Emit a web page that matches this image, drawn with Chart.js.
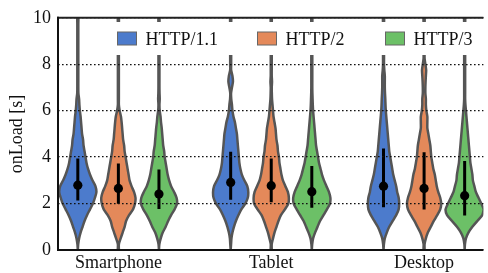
<!DOCTYPE html>
<html>
<head>
<meta charset="utf-8">
<script src="https://cdn.jsdelivr.net/npm/chart.js@4/dist/chart.umd.min.js"></script>
<style>
  html, body { margin: 0; padding: 0; background: #fff; }
  #wrap { width: 488px; height: 273px; position: relative; }
</style>
</head>
<body>
<div id="wrap"><canvas id="c" width="488" height="273"></canvas></div>
<script>
// ---------------- data ----------------
const categories = ['Smartphone', 'Tablet', 'Desktop'];
const seriesNames = ['HTTP/1.1', 'HTTP/2', 'HTTP/3'];
const yTicks = [0, 2, 4, 6, 8, 10];

// KDE grid: onLoad values (s) at which violin half-widths were read
const densityGrid = [0,0.25,0.5,0.75,1,1.25,1.5,1.75,2,2.25,2.5,2.75,3,3.25,3.5,3.75,4,4.25,4.5,4.75,5,
  5.25,5.5,5.75,6,6.25,6.5,6.75,7,7.25,7.5,7.75,8,8.25,8.5,8.75,9,9.25,9.5,9.75,10];

// relative violin half-widths (density), one array per violin
const smartphoneH1 = [0,0.4,1.3,2.8,4.8,6.8,9.3,12.3,15.3,17.3,18.8,17.8,14.8,12.3,10.3,8.8,7.8,6.8,5.8,5.3,4.3,3.8,3.3,2.8,2.1,1.6,1.3,0.6,0.5,0.5,0.5,0.5,0.5,0.5,0.5,0.5,0.5,0.5,0.5,0.5,0.5];
const smartphoneH2 = [0.5,0.5,2.3,4.3,6.3,7.8,10.8,14.8,16.8,17.3,15.8,13.3,11.3,10.3,9.3,8.3,7.3,6.3,5.8,4.8,4.3,3.8,3.3,2.6,1.3,0.5,0.5,0.5,0.5,0.5,0.5,0.5,0.5,0.5,0.5,0.5,0.5,0.5,0.5,0.5,0.5];
const smartphoneH3 = [0,0.4,1.8,3.8,6.8,9.3,12.3,15.8,18.3,17.8,15.3,12.3,10.3,8.8,7.8,6.8,5.8,5.3,4.3,3.8,3.3,2.8,2.1,1.6,0.8,0.5,0.8,0.6,0.5,0.5,0.5,0.5,0.5,0.5,0.5,0.5,0.5,0.5,0.5,0.5,0.5];
const tabletH1 = [0,0.4,0.8,1.8,3.3,5.3,7.8,10.8,14.8,17.3,17.8,16.8,13.8,11.3,9.8,8.8,8.3,7.8,7.3,6.8,6.3,5.3,4.3,2.8,1.8,1.3,0.6,0.4,1.3,2.3,1.8,0.5,0.5,0.5,0.5,0.5,0.5,0.5,0.5,0.5,0.5];
const tabletH2 = [0.5,0.5,1.8,3.3,5.3,7.3,9.8,13.8,17.3,17.8,16.8,14.3,11.8,10.3,9.3,8.3,7.8,6.8,6.3,5.3,4.8,4.3,3.3,2.3,1.8,1.3,0.8,0.6,0.5,0.8,0.5,0.5,0.5,0.5,0.5,0.5,0.5,0.5,0.5,0.5,0.5];
const tabletH3 = [0,0.4,1.3,3.3,5.8,8.3,11.8,15.3,18.3,18.8,17.3,14.8,12.3,10.3,8.8,7.3,6.3,5.3,4.3,3.8,3.3,2.8,2.3,1.8,1.3,1.0,0.8,0.6,0.5,0.5,0.5,0.5,0.5,0.5,0.5,0.5,0.5,0.5,0.5,0.5,0.5];
const desktopH1 = [0,0.4,1.3,3.3,5.8,9.3,12.8,15.3,15.8,15.3,13.8,12.8,11.3,9.8,8.8,7.8,6.8,5.8,5.3,4.8,4.3,3.8,3.3,2.8,2.3,2.0,1.8,1.5,1.3,1.3,1.3,0.8,0.5,0.5,0.5,0.5,0.5,0.5,0.5,0.5,0.5];
const desktopH2 = [0.5,0.5,1.8,3.8,6.8,9.8,13.3,16.3,17.3,16.3,14.3,12.8,11.8,10.8,9.3,8.3,7.3,6.8,6.3,5.3,4.3,3.3,3.3,3.3,2.3,1.8,1.8,1.3,1.3,1.5,1.8,2.1,1.3,0.5,0.5,0.5,0.5,0.5,0.5,0.5,0.5];
const desktopH3 = [0,0.3,1.3,3.8,7.8,12.8,17.8,19.3,16.8,14.0,11.3,9.8,8.3,7.8,6.8,5.8,5.3,4.8,4.3,3.8,3.3,2.8,2.3,1.8,1.3,0.8,0.5,0.5,0.5,0.5,0.5,0.5,0.5,0.5,0.5,0.5,0.5,0.5,0.5,0.5,0.5];

// per-series summary: central dot and line ends, one value per category
const h1Center = [2.79, 2.91, 2.75];
const h2Center = [2.65, 2.77, 2.65];
const h3Center = [2.41, 2.51, 2.34];
const h1Low = [2.13, 2.16, 1.84];
const h2Low = [1.99, 2.06, 1.74];
const h3Low = [1.77, 1.82, 1.49];
const h1High = [3.94, 4.23, 4.37];
const h2High = [3.73, 3.94, 4.21];
const h3High = [3.47, 3.62, 3.83];

// ---------------- layout / style ----------------
const colors = ['#4c7bcc', '#e4895a', '#6cc067'];
const outline = '#555555';
const dodge = [-0.2654, 0, 0.2654];     // offset of each hue within a category
const widthScale = 1 / 154.5;           // density -> x units
const FONT = "'Liberation Serif', 'Times New Roman', serif";

const densities = [
  [smartphoneH1, tabletH1, desktopH1],
  [smartphoneH2, tabletH2, desktopH2],
  [smartphoneH3, tabletH3, desktopH3]
];
const centers = [h1Center, h2Center, h3Center];
const lows = [h1Low, h2Low, h3Low];
const highs = [h1High, h2High, h3High];

const datasets = [];
// violins
for (let s = 0; s < 3; s++) {
  for (let c = 0; c < categories.length; c++) {
    const dens = densities[s][c];
    const xc = c + dodge[s];
    const pts = [];
    for (let i = 0; i < densityGrid.length; i++) pts.push({x: xc + dens[i] * widthScale, y: densityGrid[i]});
    for (let i = densityGrid.length - 1; i >= 0; i--) pts.push({x: xc - dens[i] * widthScale, y: densityGrid[i]});
    pts.push({x: pts[0].x, y: pts[0].y});
    datasets.push({
      label: seriesNames[s] + ' ' + categories[c],
      data: pts, showLine: true, fill: 'shape', tension: 0.25,
      backgroundColor: colors[s], borderColor: outline, borderWidth: 2.5,
      borderJoinStyle: 'round', pointRadius: 0, order: 3
    });
  }
}
// whisker lines
for (let s = 0; s < 3; s++) {
  const pts = [];
  for (let c = 0; c < categories.length; c++) {
    const xc = c + dodge[s];
    pts.push({x: xc, y: lows[s][c]}, {x: xc, y: highs[s][c]}, {x: xc, y: null});
  }
  datasets.push({label: seriesNames[s] + ' range', data: pts, showLine: true, spanGaps: false,
    borderColor: '#000', borderWidth: 3, pointRadius: 0, fill: false, order: 2});
}
// central dots
for (let s = 0; s < 3; s++) {
  datasets.push({label: seriesNames[s] + ' median',
    data: categories.map((_, c) => ({x: c + dodge[s], y: centers[s][c]})),
    showLine: false, pointRadius: 4.6, pointBackgroundColor: '#000', pointBorderWidth: 0, order: 1});
}

const frameAndLegend = {
  id: 'frameAndLegend',
  afterDraw(chart) {
    const {ctx, chartArea: a} = chart;
    ctx.save();
    // spines
    ctx.lineWidth = 2;
    ctx.strokeStyle = '#222';
    ctx.beginPath(); ctx.moveTo(a.left - 1, a.top); ctx.lineTo(a.right, a.top); ctx.stroke();
    ctx.strokeStyle = '#111';
    ctx.beginPath(); ctx.moveTo(a.left, a.top - 1); ctx.lineTo(a.left, a.bottom + 1); ctx.stroke();
    ctx.beginPath(); ctx.moveTo(a.left - 1, a.bottom); ctx.lineTo(a.right, a.bottom); ctx.stroke();
    // legend
    ctx.fillStyle = '#fff';
    ctx.fillRect(104, 22, a.right - 104, 33);
    const patchX = [117.5, 257.5, 385.5];
    ctx.font = '18px ' + FONT;
    ctx.textBaseline = 'alphabetic';
    for (let s = 0; s < 3; s++) {
      ctx.fillStyle = colors[s];
      ctx.fillRect(patchX[s], 32, 19, 13);
      ctx.strokeStyle = '#666';
      ctx.lineWidth = 1;
      ctx.strokeRect(patchX[s], 32, 19, 13);
      ctx.fillStyle = '#111';
      ctx.fillText(seriesNames[s], patchX[s] + 28, 45);
    }
    ctx.restore();
  }
};

new Chart(document.getElementById('c'), {
  type: 'scatter',
  data: {datasets},
  options: {
    responsive: false, animation: false, devicePixelRatio: 1,
    layout: {padding: {left: 0, top: 15, right: 0, bottom: 0}},
    plugins: {legend: {display: false}, tooltip: {enabled: false}},
    scales: {
      x: {
        type: 'linear', min: -0.395, max: 2.388,
        afterBuildTicks: (sc) => { sc.ticks = categories.map((_, i) => ({value: i})); },
        afterFit: (sc) => { sc.height = 23; },
        ticks: {callback: (v) => categories[v], color: '#111', font: {family: FONT, size: 18}, padding: 2, maxRotation: 0, autoSkip: false},
        grid: {display: false, drawTicks: false},
        border: {display: false}
      },
      y: {
        min: 0, max: 10,
        afterBuildTicks: (sc) => { sc.ticks = yTicks.map(v => ({value: v})); },
        afterFit: (sc) => { sc.width = 58; },
        ticks: {color: '#111', font: {family: FONT, size: 18}, padding: 7},
        grid: {color: '#111', lineWidth: 1.3, drawTicks: false, z: 1},
        border: {display: false, dash: [1.6, 2.4]},
        title: {display: true, text: 'onLoad [s]', color: '#111', font: {family: FONT, size: 18}, padding: {top: 6, bottom: 0}}
      }
    }
  },
  plugins: [frameAndLegend]
});
</script>
</body>
</html>
